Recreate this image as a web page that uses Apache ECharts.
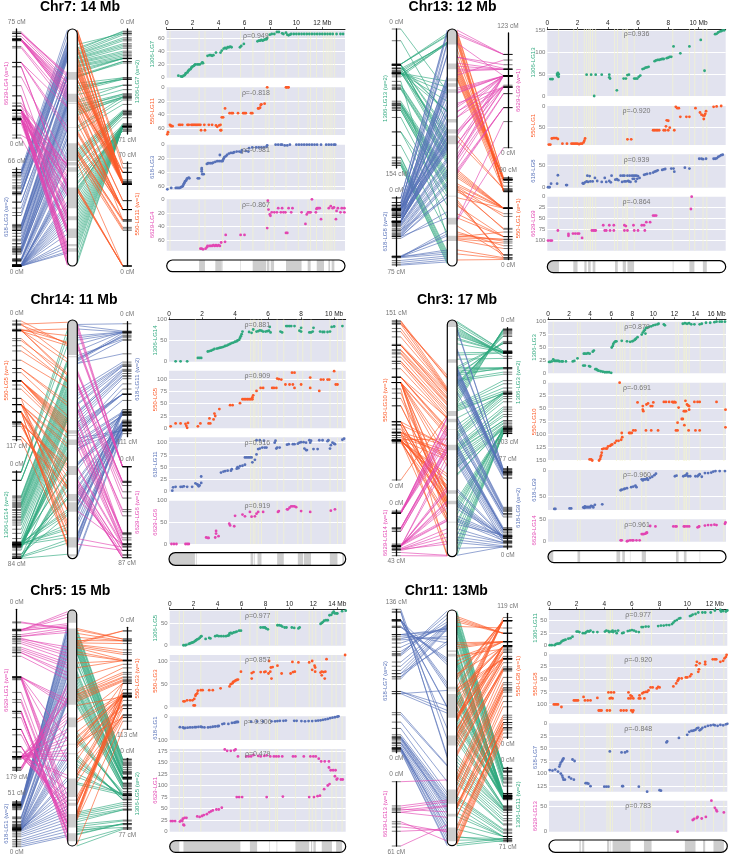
<!DOCTYPE html>
<html>
<head>
<meta charset="utf-8">
<title>Synteny</title>
<style>
html,body{margin:0;padding:0;background:#fff;}
#main{width:733px;height:856px;}
</style>
<script src="https://cdn.jsdelivr.net/npm/echarts@6/dist/echarts.min.js"></script>
</head>
<body>
<div id="main"></div>
<script>
// markers: [position in Mb, map position in cM]
var chr7Lg7 = [[0.9,3],[1.1,2],[1.2,1.5],[1.3,3],[1.4,4],[1.45,6],[1.5,7],[1.6,8],[1.65,10],[1.7,11],[1.75,12],[1.85,13],[1.9,15],[1.95,16],[2,17],[2.1,18],[2.15,19],[2.2,20],[2.35,20],[2.45,20],[2.55,20],[2.7,22],[2.75,23],[2.8,22],[3.15,33],[3.3,34],[3.4,34],[3.5,33],[3.6,34],[3.8,38],[4.15,38],[4.25,41],[4.4,44],[4.5,45],[4.6,44],[4.7,46],[4.8,46],[4.9,47],[5,46],[5.65,46],[5.75,48],[5.95,51],[7,55],[7.1,56],[7.2,56],[7.3,57],[7.4,56],[7.5,57],[7.6,58],[7.7,58],[7.75,60],[7.95,65],[8.1,66],[8.3,66],[8.5,69],[8.65,69],[8.9,67],[9,66],[9.2,68],[9.3,65],[9.4,64],[9.5,65],[9.6,66],[9.8,66],[10,66],[10.2,66],[10.4,66],[10.6,66],[10.8,66],[11,66],[11.2,66],[11.4,66],[11.6,66],[11.8,66],[12,66],[12.2,66],[12.4,66],[12.6,66],[12.8,66],[13.1,66],[13.4,66],[13.6,66]];
var chr7Lg11 = [[0.05,69],[0.1,66],[0.25,55],[0.3,56],[0.35,57],[0.45,57],[0.95,55],[1.05,55],[1.2,55],[1.6,55],[1.7,55],[1.9,55],[2,55],[2.1,55],[2.2,55],[2.3,55],[2.4,55],[2.5,55],[2.6,55],[2.65,63],[2.9,55],[2.95,63],[3.25,55],[3.5,55],[3.8,56],[3.9,58],[4.05,56],[4.15,55],[4.15,63],[4.2,63],[4.25,44],[4.35,44],[4.5,31],[4.85,38],[5,38],[5.1,38],[5.5,38],[5.9,38],[6,38],[6.1,38],[6.5,38],[6.6,38],[7.05,31],[7.1,31],[7.2,30],[7.25,26],[7.3,25],[7.55,24],[7.75,0],[9.2,0],[9.25,0],[9.35,0],[9.4,0]];
var chr7Lg3 = [[0.05,65],[0.35,63],[0.7,63],[0.8,63],[0.9,63],[1,63],[1.1,62],[1.2,61],[1.25,60],[1.3,58],[1.35,56],[1.4,54],[1.45,53],[1.5,52],[1.55,50],[1.6,49],[1.7,48],[1.75,49],[2.4,49],[2.5,49],[2.7,36],[2.7,34],[2.7,39],[2.75,43],[2.85,43],[3.1,28],[3.2,27],[3.35,27],[3.5,27],[3.6,26],[3.75,25],[3.9,24],[4.05,24],[4.1,15],[4.2,24],[4.3,24],[4.35,22],[4.4,20],[4.45,18],[4.55,17],[4.65,15],[4.8,13],[4.95,12],[5.1,12],[5.2,11],[5.4,10],[5.6,10],[5.75,11],[5.8,8],[6.1,9],[6.3,10],[6.35,5],[6.6,4],[6.9,4],[7.1,4],[7.3,4],[7.5,4],[7.7,3],[7.75,1],[8.4,0],[8.6,0],[8.8,0],[8.9,0],[9.1,1],[9.3,1],[9.5,0],[10,0],[10.2,0],[10.4,0],[10.6,0],[10.8,0],[11,0],[11.2,0],[11.4,0],[11.6,0],[11.9,0],[12.3,0],[12.5,0],[12.7,0],[12.9,0],[13,0]];
var chr7Lg4 = [[2.6,72],[2.7,72],[2.8,73],[3,72],[3.1,70],[3.15,68],[3.3,68],[3.4,68],[3.5,68],[3.6,67],[3.7,68],[3.8,67],[3.9,68],[4,67],[4.1,68],[4.2,63],[4.5,62],[4.55,52],[5.7,52],[6,52],[7.75,42],[7.8,2],[7.85,15],[7.95,22],[8,24],[8.1,19],[8.3,19],[8.5,19],[8.6,13],[8.8,19],[8.9,13],[9,19],[9.15,19],[9.2,49],[9.3,49],[9.4,13],[9.6,19],[9.7,13],[10.4,19],[10.7,36],[10.8,22],[10.9,19],[11,19],[11.1,19],[11.2,0],[11.5,19],[11.55,14],[11.6,13],[11.7,13],[11.8,13],[11.9,29],[12.5,13],[12.65,10],[12.8,13],[12.9,12],[13.05,29],[13.1,17],[13.2,13],[13.4,19],[13.5,13],[13.7,13],[13.7,19]];
var chr7Bands = [[2.5,2.95],[3.75,4.25],[4.3,4.34],[5.68,5.72],[6.63,7.66],[7.72,7.92],[8.02,8.28],[9.2,10.4],[10.87,11.1],[11.57,12.13],[12.47,12.6],[12.72,12.93]];
var chr7Lines = [0.25,2.5,2.95,4.3,5.7,6.65,7.65,7.9,8.3,9.2,10.15,10.9,11.1,11.55,12.1,12.3,12.45,12.6,12.75,12.95];

var chr13Lg13 = [[0.2,39],[0.3,39],[0.35,39],[0.65,48],[0.65,51],[0.7,53],[0.7,46],[0.75,44],[0.75,50],[2.6,49],[2.9,49],[3.1,0],[3.2,49],[3.6,49],[4.1,49],[4.1,43],[4.15,40],[4.6,13],[5.05,40],[5.2,40],[5.3,48],[5.4,49],[5.75,40],[5.85,40],[5.95,40],[6.05,44],[6.15,47],[6.3,62],[6.4,63],[6.5,65],[6.6,66],[6.7,67],[7.1,80],[7.2,82],[7.3,83],[7.4,83],[7.5,84],[7.6,85],[7.7,85],[7.9,87],[8,88],[8.1,90],[8.2,90],[8.35,114],[8.8,98],[9.4,114],[10.15,129],[10.4,58],[11.1,142],[11.2,143],[11.3,146],[11.4,148],[11.5,149],[11.6,151],[11.7,151]];
var chr13Lg1 = [[0.1,89],[0.2,89],[0.3,75],[0.4,74],[0.5,74],[0.6,74],[0.7,76],[1,87],[1.3,87],[1.6,87],[1.7,87],[1.8,87],[1.9,87],[2,87],[2.1,88],[2.2,87],[2.3,87],[2.4,84],[2.45,80],[2.5,75],[5.3,77],[5.55,77],[7,56],[7.1,56],[7.2,56],[7.3,56],[7.4,56],[7.7,56],[7.8,56],[7.85,47],[7.9,33],[8,34],[8,56],[8.1,50],[8.4,56],[8.5,2],[8.6,5],[8.7,5],[8.8,25],[9.2,25],[9.4,25],[9.8,5],[10.1,15],[10.2,20],[10.3,22],[10.4,22],[10.45,18],[10.5,12],[10.35,30],[11,2],[11.2,1],[11.5,0]];
var chr13Lg8 = [[0.05,1],[0.15,1],[0.25,9],[0.65,9],[0.7,28],[1.25,6],[1.3,6],[2.35,10],[2.4,9],[2.5,12],[2.6,14],[2.65,27],[2.7,13],[2.8,26],[2.85,14],[3,14],[3.15,22],[3.3,15],[3.6,13],[3.8,22],[3.9,13],[4.1,15],[4.2,12],[4.25,27],[4.5,18],[4.6,19],[4.7,17],[4.85,27],[4.95,13],[5,27],[5.1,14],[5.1,27],[5.2,14],[5.3,27],[5.35,15],[5.4,14],[5.45,27],[5.5,13],[5.6,27],[5.65,20],[5.7,27],[5.75,20],[5.8,27],[5.85,14],[5.9,27],[5.95,20],[6,26],[6.1,22],[6.4,29],[6.5,30],[6.6,31],[6.8,32],[7,34],[7.1,36],[7.2,37],[7.3,39],[7.6,40],[7.7,41],[7.8,42],[8.2,43],[8.35,43],[8.4,36],[9.1,45],[9.4,43],[10.05,65],[10.2,65],[10.3,64],[10.5,65],[11,65],[11.1,65],[11.2,66],[11.3,69],[11.4,71],[11.5,73],[11.6,74]];
var chr13Lg9 = [[0.05,100],[0.2,100],[0.3,100],[0.7,77],[1.4,85],[1.4,89],[1.7,84],[1.85,84],[2,84],[2.1,84],[2.3,94],[2.95,77],[3.05,77],[3.15,77],[3.2,77],[3.7,65],[3.8,77],[3.9,77],[4.1,65],[4.15,77],[4.4,65],[4.4,77],[5.1,65],[5.1,77],[5.2,67],[5.3,77],[5.7,65],[5.75,77],[6,77],[6.25,65],[6.4,65],[6.45,77],[6.55,58],[6.8,58],[7,43],[7.1,43],[7.2,43],[9.5,28],[9.55,0]];
var chr13Bands = [[0,0.77],[1.72,2],[2.45,2.6],[2.7,2.87],[3,3.18],[4.48,4.66],[4.99,5.2],[5.3,5.74],[8.3,8.34],[9.4,9.73],[10.29,10.55]];
var chr13Lines = [0.75,1.75,2,2.45,2.6,2.75,2.85,3,3.2,4.45,4.65,5,5.2,5.3,5.75,8.3,9.4,9.75,10.3,10.55];

var chr14Lg14 = [[0.4,1],[0.7,1],[1.1,1],[1.75,9],[1.85,9],[1.95,9],[2.35,24],[2.45,25],[2.55,26],[2.65,28],[2.75,30],[2.9,31],[3,32],[3.1,33],[3.2,34],[3.3,35],[3.4,37],[3.5,38],[3.6,40],[3.7,42],[3.8,44],[3.9,45],[4,47],[4.1,48],[4.15,50],[4.25,52],[4.3,56],[4.35,60],[4.4,65],[4.45,71],[4.85,70],[5,68],[5.1,76],[5.3,71],[5.4,72],[5.5,74],[5.6,73],[5.7,71],[5.85,71],[5.95,72],[6.05,73],[6.1,82],[6.15,69],[6.75,71],[6.85,69],[7.1,84],[7.2,84],[7.3,84],[7.4,84],[7.6,84],[7.9,73],[8,71],[8,80],[8.5,69],[8.6,69],[8.7,71],[8.75,80],[9.15,71],[9.3,70],[9.4,70],[9.6,70],[9.75,71],[9.85,82],[10,83],[10.5,84]];
var chr14Lg5 = [[0.1,4],[0.4,10],[0.7,10],[1,9],[1.05,5],[1.1,1],[1.15,11],[1.75,4],[1.9,10],[2.4,10],[2.45,20],[2.5,10],[2.7,18],[2.75,30],[2.8,25],[3.05,39],[3.7,47],[3.85,47],[4.3,51],[4.45,59],[4.55,59],[4.65,59],[4.75,59],[4.85,59],[4.95,59],[5.05,59],[5.05,63],[5.1,67],[5.3,76],[5.55,82],[5.7,82],[6.25,82],[6.35,82],[6.5,82],[6.55,101],[6.65,100],[6.8,99],[7.05,89],[7.3,89],[7.5,89],[7.45,113],[7.6,113],[7.6,82],[8,89],[8.55,103],[8.55,82],[9.1,76],[9.2,99],[9.35,99],[9.6,99],[9.7,99],[10,116],[10.1,89],[10.2,89]];
var chr14Lg11 = [[0.2,2],[0.25,9],[0.4,10],[0.7,10],[0.8,10],[0.9,11],[1.1,10],[1.4,10],[1.6,17],[1.7,15],[1.75,14],[1.8,11],[1.85,13],[1.95,18],[1.95,31],[3.15,39],[3.3,41],[3.4,42],[3.55,43],[3.75,43],[3.8,46],[4.1,47],[4.15,50],[4.2,48],[4.3,52],[4.45,53],[4.6,55],[4.6,70],[4.7,70],[4.8,70],[4.9,70],[5,70],[5.05,60],[5.2,65],[5.3,76],[5.3,105],[5.4,87],[5.5,105],[5.5,88],[5.65,90],[5.75,104],[5.8,90],[5.9,90],[6.4,100],[6.5,88],[6.45,104],[6.55,90],[6.7,90],[7.15,96],[7.25,97],[7.5,97],[7.6,97],[7.8,98],[7.9,100],[8,101],[8.15,101],[8.2,88],[8.3,85],[8.3,100],[8.35,85],[8.5,105],[8.55,100],[8.6,104],[8.75,87],[9,87],[9.1,105],[9.3,105],[9.65,105],[9.6,103],[9.75,88],[9.8,95],[9.9,100],[10,98],[10.05,97],[10.5,106],[10.6,108]];
var chr14Lg6 = [[0.15,0],[0.3,0],[0.45,0],[1,0],[1.1,0],[1.2,0],[2.25,15],[2.35,14],[2.4,14],[2.8,15],[2.85,24],[2.85,30],[3,18],[3.65,47],[3.7,43],[3.95,41],[4,65],[4.45,68],[4.6,64],[4.9,74],[5,63],[5.2,64],[5.3,70],[5.4,74],[5.7,74],[6.6,74],[6.65,76],[7.15,80],[7.2,80],[7.3,84],[7.4,87],[7.5,87],[7.6,87],[7.7,85],[8,76],[8.55,74],[9.8,77],[10.05,80]];
var chr14Bands = [[0,1.57],[1.63,1.67],[4.94,5.1],[5.16,5.2],[5.36,5.6],[6.55,6.95],[7.8,8.12],[8.17,8.6],[9.74,10.2],[10.5,10.6]];
var chr14Lines = [1.6,4.95,5.1,5.2,5.4,5.6,6.55,6.95,7.8,8.1,8.6,9.75,10.2,10.5];

var chr3Lg3 = [[0.1,22],[0.2,22],[0.35,23],[0.5,27],[0.6,24],[0.7,24],[0.8,24],[0.9,24],[1,24],[1.1,23],[1.3,23],[1.4,23],[1.7,23],[2.35,23],[2.5,24],[2.8,29],[3.35,15],[3.5,15],[3.4,38],[3.5,38],[3.65,38],[3.8,39],[3.9,14],[3.95,38],[4,13],[4.25,42],[4.35,44],[4.5,8],[4.6,8],[4.7,6],[4.8,5],[5,4],[5.2,3],[5.4,2],[5.6,2],[5.8,2],[6,1],[6.05,50],[6.15,53],[6.2,57],[6.3,60],[6.4,62],[6.5,62],[7,63],[7.5,62],[7.8,61],[8,62],[8.1,63],[8.25,65],[8.35,67],[8.5,70],[8.9,75],[9,79],[9.1,82],[9.2,84],[9.25,77],[9.3,88],[9.4,88],[9.6,90],[9.8,91],[10,93],[10.2,94],[10.4,95],[10.5,96],[11,95],[11.1,93],[12.8,96],[13,97],[13.2,96],[13.4,97],[13.6,95],[13.9,95],[14.4,95],[14.6,96],[15,98],[15.4,98],[15.8,99],[16,100],[16.3,100],[16.5,100],[16.8,100]];
var chr3Lg10 = [[3.95,148],[4.1,148],[4.2,150],[4.85,150],[4.95,147],[5,143],[5.05,140],[5.1,135],[5.15,128],[5.3,127],[5.5,127],[5.6,127],[5.7,123],[5.9,122],[6,120],[6.1,119],[6.35,116],[6.5,112],[6.7,112],[6.8,0],[6.95,110],[7,97],[7.05,105],[7.7,97],[7.8,97],[7.95,97],[8.1,92],[8.3,92],[8.5,38],[9,45],[9.05,55],[9,52],[9.3,92],[9.35,42],[9.5,40],[9.75,45],[9.8,92],[9.9,45],[10,38],[10.45,92],[11,37],[11.2,37],[11.5,37],[11.8,37],[11.9,38],[12,37],[12.1,38],[12.15,92],[12.3,92],[12.3,77],[12.4,48],[12.7,70],[12.8,70],[12.9,55],[12.95,82],[13.05,35],[13,55],[13.1,55],[13.2,42],[13.3,44],[13.35,92],[13.4,52],[13.4,45],[13.9,37],[14,92],[14.2,37],[14.4,37],[14.4,92],[16,37],[16.85,52],[16.85,86]];
var chr3Lg9 = [[0.6,75],[0.7,75],[2.05,74],[2.2,74],[3.35,72],[3.45,73],[3.5,70],[3.6,72],[3.7,71],[3.8,72],[3.9,71],[4,72],[4.1,69],[4.25,70],[4.3,72],[4.45,67],[5.15,66],[6.9,39],[7,38],[7.2,37],[7.3,36],[7.5,35],[7.9,33],[8.1,32],[8.3,30],[8.4,33],[8.9,18],[9,20],[9.1,18],[9.2,18],[9.3,18],[9.4,16],[9.5,19],[9.7,15],[9.9,13],[10.1,10],[10.25,7],[12.05,12],[12.2,11],[12.85,12],[13,11],[13.1,10],[13.2,7],[13.3,12],[13.5,12],[14,12],[14.2,12],[14.3,10],[14.4,8],[14.6,13],[14.9,6],[15.2,6],[15.5,5],[15.7,3],[15.9,2],[16.3,2],[16.8,2]];
var chr3Lg14 = [[6.9,3],[7,3],[7.5,1],[7.6,2],[7.8,3],[8,3],[8.1,3],[8.4,3],[8.7,3],[8.9,17],[9,17],[9.1,17],[9.25,18],[9.35,20],[9.4,20],[9.7,35],[10.2,34],[11.9,34],[12.1,34],[12.2,34],[12.9,34],[13,34],[13.2,34],[13.4,34],[14.2,32],[14.3,33],[14.35,34],[14.9,36],[15.2,37],[15.5,37],[15.8,38],[16,37],[16.8,40],[16.85,43]];
var chr3Bands = [[0,0.5],[2.8,3.05],[6.5,6.85],[7.05,7.3],[7.78,7.82],[8.9,9.3],[12.15,12.4],[12.9,13.15],[14.4,14.45]];
var chr3Lines = [0.5,2.8,3.05,6.5,6.85,7.05,7.3,7.8,8.9,9.3,12.15,12.4,12.9,13,13.15,13.4,14.45,16.7];

var chr5Lg5 = [[1.15,1],[1.3,1],[1.4,2],[1.6,4],[1.7,5],[1.8,6],[1.9,7],[2,8],[2.1,10],[2.2,12],[2.3,14],[2.4,15],[2.5,17],[2.6,20],[2.65,21],[3,15],[3.3,17],[3.4,16],[3.8,21],[3.95,22],[4.1,21],[4.3,21],[4.5,21],[4.7,21],[4.85,22],[4.95,23],[5,27],[5.1,28],[5.2,27],[5.35,29],[5.5,30],[5.6,31],[5.8,33],[5.95,33],[7.6,40],[7.8,40],[7.95,40],[8.05,38],[8.2,36],[9,45],[9.15,45],[9.3,44],[9.4,42],[9.6,40],[9.75,40],[10.2,40],[10.4,39],[10.75,38],[10.85,40],[12.6,48],[12.7,50],[12.8,52],[12.9,55],[13.05,56],[13.2,56],[13.35,67],[13.5,68],[13.6,72],[13.7,75],[13.8,71],[13.95,71],[14,71],[14.4,76],[14.7,77]];
var chr5Lg3 = [[1.15,13],[1.25,13],[1.45,15],[1.7,15],[1.9,15],[2,4],[2.05,18],[2.1,4],[2.15,25],[2.2,28],[2.3,30],[2.35,36],[2.6,37],[2.75,37],[3.3,37],[3.6,37],[4.25,41],[5,45],[5.1,50],[5.25,52],[5.3,55],[5.4,56],[5.5,58],[5.6,59],[5.7,60],[5.95,77],[6.85,62],[6.85,74],[7,76],[7.6,76],[7.9,76],[8,77],[8.25,73],[8.3,100],[8.4,77],[8.45,86],[8.5,62],[8.6,87],[9,90],[9.35,73],[10.1,73],[10.25,98],[10.3,76],[10.45,77],[10.75,97],[11.65,97],[11.9,100],[11.9,81],[12.1,90],[12.15,77],[12.15,86],[12.6,75],[12.7,69],[12.7,77],[12.85,76],[12.95,62],[13,77],[13.1,104],[14.65,113]];
var chr5Lg1a = [[0.85,46],[1.1,47],[1.2,50],[1.3,49],[1.5,48],[1.7,47],[1.9,47],[2.1,46],[2.2,46],[2.4,45],[2.6,44],[2.7,46],[2.9,47],[3.2,47],[3.4,46],[3.6,44],[3.8,43],[4,42],[4.1,41],[4.4,33],[4.55,31],[4.9,32],[5.2,28],[5.4,27],[5.5,25],[5.6,24],[5.7,24],[6.8,23],[7.3,22],[7.8,22],[8.5,21],[8.8,21],[9,20],[9.2,19],[9.5,19],[9.7,18],[10.4,19],[10.6,19],[11,20],[11.3,21],[11.6,20],[11.9,20],[12.2,19],[12.4,18],[12.6,17],[12.8,15],[13,13],[13.2,11],[13.4,8],[13.6,6],[13.8,4],[14,2],[14.1,0]];
var chr5Lg1b = [[0.1,23],[0.25,23],[0.45,23],[0.85,22],[0.95,24],[1.05,23],[1.1,28],[1.15,15],[1.2,14],[1.25,30],[1.4,30],[2.3,33],[2.5,32],[2.7,34],[2.85,36],[3.1,38],[3.3,42],[3.45,44],[3.6,46],[3.9,48],[4.1,48],[4.35,52],[4.6,178],[4.8,175],[5.1,175],[5.4,176],[5.5,178],[5.6,75],[5.7,163],[5.8,75],[6.05,75],[6.4,163],[6.6,163],[6.8,163],[7,166],[7.4,164],[7.6,163],[7.9,164],[8.1,75],[8.1,165],[8.4,163],[8.7,163],[8.9,163],[9.1,163],[9.4,163],[9.45,76],[10.3,163],[10.5,163],[11.2,163],[11.65,75],[11.75,163],[12,163],[12.05,75],[12.2,163],[12.35,77],[12.45,158],[12.55,78],[12.65,152],[12.9,92],[12.95,152],[13.2,100],[13.3,139],[13.3,152],[13.35,103],[13.45,133],[13.65,133],[13.8,120],[13.85,133],[13.95,113],[14,115],[14.3,113],[14.45,113]];
var chr5Bands = [[0,0.8],[1.15,5.9],[6.7,7.3],[8.33,8.38],[8.93,8.98],[10.5,11.65],[11.8,11.9],[12,12.2],[12.7,13.55],[13.9,14.4]];
var chr5Lines = [0.8,1.15,2.6,5.9,6.7,7.3,8.35,8.85,9,10.5,11.65,11.9,12.2,12.7,13.55,13.9,14.4];

var chr11Lg11 = [[0.05,1],[0.2,1],[0.4,1],[0.5,3],[0.6,4],[0.7,4],[0.8,5],[0.9,8],[1,10],[1.1,11],[1.2,12],[1.4,14],[1.55,15],[1.7,18],[2,28],[2.1,28],[2.2,27],[2.45,25],[2.6,25],[2.7,27],[2.8,29],[2.9,28],[3,30],[3.2,27],[3.5,27],[4.05,28],[4.15,30],[4.3,29],[4.35,27],[4.5,28],[4.6,30],[4.65,27],[4.8,29],[4.9,25],[5,30],[5.3,25],[5.4,26],[5.7,29],[5.85,30],[6,31],[6.15,30],[6.3,28],[6.5,27],[6.7,37],[6.8,37],[7,38],[7.2,38],[7.9,39],[8.1,40],[8.3,40],[8.5,41],[8.7,41],[8.9,43],[9,46],[9.1,49],[9.25,51],[9.4,54],[9.5,55],[10.2,59],[10.3,60],[10.4,62],[10.6,63],[10.8,66],[11.1,66],[11.3,66],[11.7,66],[12,70],[12.4,71],[12.45,68],[12.6,69],[12.8,68],[12.9,70]];
var chr11Lg8 = [[0.35,100],[0.45,100],[0.55,100],[0.65,100],[0.9,105],[1.8,92],[1.9,92],[2,92],[2.1,92],[2.5,85],[2.6,92],[2.8,92],[3,92],[3.5,87],[3.6,112],[3.7,112],[3.8,112],[4.2,112],[4.3,76],[4.4,112],[4.4,88],[4.5,76],[4.5,87],[4.6,88],[4.7,76],[5.2,112],[5.4,112],[5.6,112],[5.75,76],[5.75,88],[5.9,82],[5.9,88],[5.95,112],[6,84],[6.05,115],[6.1,88],[6.1,112],[6.5,88],[6.55,82],[6.6,88],[6.75,78],[6.85,76],[6.9,88],[7,75],[7.1,75],[7.2,72],[7.35,66],[7.5,66],[7.8,68],[7.9,65],[8,66],[9,64],[9.2,58],[9.3,53],[9.35,51],[9.4,48],[9.6,48],[9.9,46],[10,46],[10.2,44],[10.3,40],[10.65,22],[10.7,15],[10.8,35],[10.85,30],[10.9,18],[11.3,15],[11.3,20],[11.85,10],[12,10],[12.1,10],[12.4,15],[12.6,13],[12.7,8],[12.8,5],[12.85,1]];
var chr11Lg7 = [[0.05,93],[0.25,94],[0.45,92],[0.65,96],[0.75,86],[0.8,82],[0.85,78],[0.95,75],[1,72],[1.05,70],[0.85,100],[0.95,104],[1,108],[1.05,112],[1.15,112],[1.45,107],[1.6,110],[1.7,72],[1.8,112],[1.85,75],[2.65,119],[2.75,119],[2.85,120],[3,125],[4,126],[4.15,126],[4.3,126],[4.4,56],[5.25,58],[5.3,125],[5.35,125],[5.5,58],[5.65,56],[6.5,126],[7.1,136],[8,133],[8.1,134],[8.5,38],[8.55,36],[9.4,29],[10,23],[10.15,17],[10.3,15],[10.4,15],[10.5,14],[10.6,13],[10.7,10],[10.8,9],[10.9,14],[11,12],[11.1,9],[11.3,7],[11.5,5],[11.7,4],[11.9,3],[12,4],[12.2,5],[12.4,3],[12.6,4],[12.8,2],[12.9,1]];
var chr11Lg13 = [[9.3,0],[10.4,23],[10.5,25],[10.7,27],[10.75,29],[11.05,26],[11.35,29],[11.75,61],[12,47],[12.1,43],[12.15,40],[12.65,38]];
var chr11Bands = [[2.2,2.3],[2.4,2.55],[4.2,4.35],[4.4,4.45],[4.6,5.9],[6.87,7.42],[9.83,10.6],[11.15,11.3],[11.9,12.65]];
var chr11Lines = [2.2,2.55,4.2,4.35,4.45,4.6,5.9,6.65,6.87,7.42,9.83,10.6,11,11.3,11.9,12.65];

var GREEN = '#2fa87e', ORANGE = '#fc5a28', BLUE = '#5771b8', PINK = '#e245b2';
var FONT = '"Liberation Sans", Arial, sans-serif';

var panels = [
	{title:'Chr7: 14 Mb', tx:80, ty:7, len:13.75, ch:[67.5,77.3,29,266], pl:166.7, pr:345, ay:29, bar:[260,271.7], plots:[
		{n:'1306-LG7', c:GREEN, d:chr7Lg7, rho:'ρ=0.949', t:30.7, b:77.7, max:71, inv:false, step:20, mn:'1306-LG7 (w=2)', side:'R', mx:127.3, mt:29, mb:134, mlen:71, top0:true},
		{n:'550-LG11', c:ORANGE, d:chr7Lg11, rho:'ρ=-0.818', t:87.3, b:135, max:70, inv:true, step:20, mn:'550-LG11 (w=1)', side:'R', mx:127.3, mt:162, mb:266, mlen:70, top0:false},
		{n:'618-LG3', c:BLUE, d:chr7Lg3, rho:'ρ=-0.981', t:144.7, b:190, max:66, inv:true, step:20, mn:'618-LG3 (w=2)', side:'L', mx:16.7, mt:168, mb:266, mlen:66, top0:false},
		{n:'6629-LG4', c:PINK, d:chr7Lg4, rho:'ρ=-0.867', t:199.3, b:250.7, max:75, inv:true, step:20, mn:'6629-LG4 (w=1)', side:'L', mx:16.7, mt:29, mb:138, mlen:75, top0:false}
	], bands:chr7Bands, lines:chr7Lines},
	{title:'Chr13: 12 Mb', tx:452.5, ty:7, len:11.8, ch:[447.3,457,29,266], pl:547.3, pr:725.7, ay:29, bar:[260.7,272.7], plots:[
		{n:'1306-LG13', c:GREEN, d:chr13Lg13, rho:'ρ=0.936', t:29, b:96, max:154, inv:false, step:50, mn:'1306-LG13 (w=2)', side:'L', mx:396.3, mt:29, mb:168, mlen:154, top0:true},
		{n:'550-LG1', c:ORANGE, d:chr13Lg1, rho:'ρ=-0.920', t:106, b:145, max:90, inv:true, step:50, mn:'550-LG1 (w=1)', side:'R', mx:508, mt:177, mb:259.5, mlen:90, top0:false},
		{n:'618-LG8', c:BLUE, d:chr13Lg8, rho:'ρ=0.939', t:154.3, b:187.7, max:75, inv:false, step:50, mn:'618-LG8 (w=2)', side:'L', mx:396.3, mt:197, mb:266, mlen:75, top0:true},
		{n:'6629-LG9', c:PINK, d:chr13Lg9, rho:'ρ=-0.864', t:196.7, b:250.7, max:123, inv:true, step:25, mn:'6629-LG9 (w=1)', side:'R', mx:508, mt:33, mb:147.7, mlen:123, top0:false}
	], bands:chr13Bands, lines:chr13Lines},
	{title:'Chr14: 11 Mb', tx:74, ty:300, len:10.7, ch:[67.7,77.3,320,558.7], pl:169, pr:345.7, ay:319.3, bar:[552.7,565.3], plots:[
		{n:'1306-LG14', c:GREEN, d:chr14Lg14, rho:'ρ=0.881', t:319.3, b:361.7, max:100, inv:false, step:50, mn:'1306-LG14 (w=2)', side:'L', mx:16.7, mt:471, mb:558.3, mlen:84, top0:true},
		{n:'550-LG5', c:ORANGE, d:chr14Lg5, rho:'ρ=0.909', t:370.7, b:428.3, max:117, inv:false, step:25, mn:'550-LG5 (w=1)', side:'L', mx:16.7, mt:320, mb:440.7, mlen:117, top0:true},
		{n:'618-LG11', c:BLUE, d:chr14Lg11, rho:'ρ=0.916', t:437.3, b:491.7, max:111, inv:false, step:25, mn:'618-LG11 (w=2)', side:'R', mx:127, mt:321.7, mb:436.7, mlen:111, top0:true},
		{n:'6629-LG6', c:PINK, d:chr14Lg6, rho:'ρ=0.919', t:500.7, b:544, max:100, inv:false, step:50, mn:'6629-LG6 (w=1)', side:'R', mx:127, mt:466.7, mb:557.7, mlen:87, top0:true}
	], bands:chr14Bands, lines:chr14Lines},
	{title:'Chr3: 17 Mb', tx:457, ty:300, len:16.9, ch:[447.3,457,320,556.7], pl:548, pr:726, ay:319.3, bar:[550.7,562.7], plots:[
		{n:'1306-LG3', c:GREEN, d:chr3Lg3, rho:'ρ=0.879', t:321.7, b:373.3, max:100, inv:false, step:25, mn:'1306-LG3 (w=2)', side:'R', mx:507.7, mt:327.7, mb:436.7, mlen:103, top0:true},
		{n:'550-LG10', c:ORANGE, d:chr3Lg10, rho:'ρ=-0.691', t:382.7, b:461, max:151, inv:true, step:25, mn:'550-LG10 (w=1)', side:'L', mx:396.3, mt:320, mb:480, mlen:151, top0:false},
		{n:'618-LG9', c:BLUE, d:chr3Lg9, rho:'ρ=-0.960', t:470, b:510, max:77, inv:true, step:50, mn:'618-LG9 (w=2)', side:'R', mx:507.7, mt:466.7, mb:549, mlen:77, top0:false},
		{n:'6629-LG14', c:PINK, d:chr3Lg14, rho:'ρ=0.961', t:519.3, b:541.7, max:50, inv:false, step:50, mn:'6629-LG14 (w=1)', side:'L', mx:396.3, mt:510, mb:555.7, mlen:43, top0:true}
	], bands:chr3Bands, lines:chr3Lines},
	{title:'Chr5: 15 Mb', tx:70.3, ty:590.7, len:14.7, ch:[67.7,76.7,610,846], pl:169.7, pr:345.7, ay:609.3, bar:[840.7,852.3], plots:[
		{n:'1306-LG5', c:GREEN, d:chr5Lg5, rho:'ρ=0.977', t:610.7, b:645.7, max:77, inv:false, step:50, mn:'1306-LG5 (w=2)', side:'R', mx:127.3, mt:758.3, mb:829.3, mlen:77, top0:true},
		{n:'550-LG3', c:ORANGE, d:chr5Lg3, rho:'ρ=0.857', t:655, b:707.3, max:113, inv:false, step:50, mn:'550-LG3 (w=1)', side:'R', mx:127.3, mt:627.3, mb:729.3, mlen:113, top0:true},
		{n:'618-LG1', c:BLUE, d:chr5Lg1a, rho:'ρ=-0.906', t:716.3, b:740, max:100, inv:true, step:100, mn:'618-LG1 (w=2)', side:'L', mx:16.7, mt:800.7, mb:846.7, mlen:51, top0:false},
		{n:'6629-LG1', c:PINK, d:chr5Lg1b, rho:'ρ=0.479', t:749, b:831.7, max:179, inv:false, step:25, mn:'6629-LG1 (w=1)', side:'L', mx:16.7, mt:609.3, mb:771, mlen:179, top0:true}
	], bands:chr5Bands, lines:chr5Lines},
	{title:'Chr11: 13Mb', tx:446.3, ty:590.7, len:12.9, ch:[447.3,456.7,610,845.7], pl:549, pr:727.3, ay:609.3, bar:[840,852.3], plots:[
		{n:'1306-LG11', c:GREEN, d:chr11Lg11, rho:'ρ=0.977', t:610, b:645.7, max:71, inv:false, step:25, mn:'1306-LG11 (w=2)', side:'R', mx:507.7, mt:767.3, mb:841.7, mlen:71, top0:true},
		{n:'550-LG8', c:ORANGE, d:chr11Lg8, rho:'ρ=-0.920', t:654.3, b:714, max:119, inv:true, step:25, mn:'550-LG8 (w=1)', side:'R', mx:507.7, mt:613.3, mb:738.3, mlen:119, top0:false},
		{n:'618-LG7', c:BLUE, d:chr11Lg7, rho:'ρ=-0.848', t:723.3, b:791.7, max:136, inv:true, step:25, mn:'618-LG7 (w=2)', side:'L', mx:396.3, mt:609.3, mb:752.7, mlen:136, top0:false},
		{n:'6629-LG13', c:PINK, d:chr11Lg13, rho:'ρ=0.783', t:800.7, b:831.7, max:61, inv:false, step:50, mn:'6629-LG13 (w=1)', side:'L', mx:396.3, mt:781.7, mb:846, mlen:61, top0:true}
	], bands:chr11Bands, lines:chr11Lines}
];

var myChart = echarts.init(document.getElementById('main'));

var grids = [], xAxes = [], yAxes = [], series = [], texts = [];

function addGrid(l, r, t, b, xAxis, yAxis, bg) {
	grids.push({left:l, top:t, width:r-l, height:b-t, show:!!bg, backgroundColor:bg || 'transparent', borderWidth:0});
	var i = grids.length-1;
	xAxis.gridIndex = i;
	yAxis.gridIndex = i;
	xAxes.push(xAxis);
	yAxes.push(yAxis);
	return i;
}

function hiddenAxis(min, max, inverse) {
	return {type:'value', min:min, max:max, inverse:!!inverse, show:false};
}

function addText(x, y, str, size, color, rotate, bold) {
	texts.push({type:'text', x:x, y:y, rotation:rotate ? Math.PI/2 : 0, silent:true, z:50, style:{
		text:str, fill:color, textAlign:'center', textVerticalAlign:'middle',
		font:(bold ? 'bold ' : '')+size+'px '+FONT
	}});
}

// rounded chromosome with its gray bands; vertical in the ladder, horizontal under the dot plots
function addChromosome(gi, bands, len, vertical) {
	var outer = function(api) {
		var a = api.coord([0,0]);
		var c = vertical ? api.coord([1,len]) : api.coord([len,1]);
		var x = Math.min(a[0],c[0]), y = Math.min(a[1],c[1]);
		var w = Math.abs(c[0]-a[0]), h = Math.abs(c[1]-a[1]);
		return {x:x, y:y, width:w, height:h, r:Math.min(w,h)/2};
	};
	series.push({type:'custom', coordinateSystem:'cartesian2d', xAxisIndex:gi, yAxisIndex:gi, silent:true, z:5, clip:false,
		data:[[0,len]],
		renderItem:function(params, api) {
			return {type:'rect', shape:outer(api), style:{fill:'#fff'}};
		}});
	series.push({type:'custom', coordinateSystem:'cartesian2d', xAxisIndex:gi, yAxisIndex:gi, silent:true, z:6, clip:false,
		data:bands,
		encode:vertical ? {y:[0,1]} : {x:[0,1]},
		renderItem:function(params, api) {
			var p0 = vertical ? api.coord([0,api.value(0)]) : api.coord([api.value(0),1]);
			var p1 = vertical ? api.coord([1,api.value(1)]) : api.coord([api.value(1),0]);
			return {type:'rect',
				shape:{x:p0[0], y:p0[1], width:p1[0]-p0[0], height:p1[1]-p0[1]},
				style:{fill:'#cdcdcd'},
				clipPath:{type:'rect', shape:outer(api)}};
		}});
	series.push({type:'custom', coordinateSystem:'cartesian2d', xAxisIndex:gi, yAxisIndex:gi, silent:true, z:7, clip:false,
		data:[[0,len]],
		renderItem:function(params, api) {
			return {type:'rect', shape:outer(api), style:{fill:'none', stroke:'#000', lineWidth:1.2}};
		}});
}

panels.forEach(function(p) {
	addText(p.tx, p.ty, p.title, 14, '#000', false, true);

	var chrGrid = addGrid(p.ch[0], p.ch[1], p.ch[2], p.ch[3], hiddenAxis(0,1), hiddenAxis(0,p.len,true));
	addChromosome(chrGrid, p.bands, p.len, true);

	var lastTick = Math.floor(p.len/2)*2;

	p.plots.forEach(function(pt, k) {
		var xAxis = hiddenAxis(0, p.len);
		if (k === 0) {
			xAxis = {type:'value', min:0, max:p.len, interval:2, position:'top', offset:pt.t-p.ay,
				axisLine:{show:true, onZero:false, lineStyle:{color:'#222', width:1}},
				axisTick:{show:true, length:2, lineStyle:{color:'#222', width:0.7}},
				splitLine:{show:false},
				axisLabel:{show:true, margin:2, fontSize:6.5, fontFamily:FONT, color:'#222', showMaxLabel:false, hideOverlap:false,
					formatter:function(v) { return v === lastTick ? v+' Mb' : String(v); }}
			};
		}
		var yAxis = {type:'value', min:0, max:pt.max, interval:pt.step, inverse:pt.inv,
			axisLine:{show:false}, axisTick:{show:false},
			splitLine:{show:true, showMaxLine:false, showMinLine:false, lineStyle:{color:'#fff', width:1}},
			axisLabel:{show:true, margin:2, fontSize:6, fontFamily:FONT, color:'#777', showMaxLabel:pt.max % pt.step === 0}
		};
		var gi = addGrid(p.pl, p.pr, pt.t, pt.b, xAxis, yAxis, '#e2e3ef');

		// pale yellow guide lines at the band edges
		series.push({type:'custom', coordinateSystem:'cartesian2d', xAxisIndex:gi, yAxisIndex:gi, silent:true, z:2, clip:true,
			data:p.lines.map(function(v) { return [v]; }),
			encode:{x:0},
			renderItem:function(params, api) {
				var a = api.coord([api.value(0),0]), b = api.coord([api.value(0),pt.max]);
				return {type:'line', shape:{x1:a[0], y1:a[1], x2:b[0], y2:b[1]}, style:{stroke:'#f3f3cd', lineWidth:0.7}};
			}});
		series.push({type:'scatter', xAxisIndex:gi, yAxisIndex:gi, data:pt.d, symbolSize:2.8, clip:false, silent:true, z:4,
			itemStyle:{color:pt.c, opacity:1}});

		addText(p.pl+(p.pr-p.pl)*0.5, pt.t+5.5, pt.rho, 7, '#777');
		addText(p.pl-14, (pt.t+pt.b)/2, pt.n, 6, pt.c, true);

		// genetic map axis: markers are the same points as the dot plot
		var mapGrid = addGrid(pt.mx-4.5, pt.mx+4.5, pt.mt, pt.mb, hiddenAxis(-1,1), {type:'value', min:0, max:pt.mlen, inverse:pt.top0,
			axisLine:{show:true, onZero:true, lineStyle:{color:'#000', width:1.3}}, axisTick:{show:false}, axisLabel:{show:false}, splitLine:{show:false}});
		series.push({type:'custom', coordinateSystem:'cartesian2d', xAxisIndex:mapGrid, yAxisIndex:mapGrid, silent:true, z:4, clip:false,
			data:pt.d.map(function(v) { return [v[1]]; }),
			encode:{y:0},
			renderItem:function(params, api) {
				var a = api.coord([-1,api.value(0)]), b = api.coord([1,api.value(0)]);
				return {type:'line', shape:{x1:a[0], y1:a[1], x2:b[0], y2:b[1]}, style:{stroke:'#000', lineWidth:0.7, opacity:0.75}};
			}});
		// one link per marker, chromosome position to map position
		series.push({type:'custom', coordinateSystem:'cartesian2d', xAxisIndex:chrGrid, yAxisIndex:chrGrid, silent:true, z:3, clip:false,
			data:pt.d,
			encode:{y:0},
			renderItem:function(params, api) {
				var onLeft = pt.side === 'L';
				var a = api.coord([onLeft ? 0 : 1, api.value(0)]);
				var my = myChart.convertToPixel({yAxisIndex:mapGrid}, api.value(1));
				return {type:'line', shape:{x1:a[0], y1:a[1], x2:onLeft ? pt.mx+4.5 : pt.mx-4.5, y2:my},
					style:{stroke:pt.c, lineWidth:0.8, opacity:0.8}};
			}});

		addText(pt.mx, pt.mt-7, (pt.top0 ? 0 : pt.mlen)+' cM', 6.5, '#777');
		addText(pt.mx, pt.mb+6, (pt.top0 ? pt.mlen : 0)+' cM', 6.5, '#777');
		addText(pt.side === 'L' ? pt.mx-10.5 : pt.mx+10.5, (pt.mt+pt.mb)/2, pt.mn, 6, pt.c, true);
	});

	var barGrid = addGrid(p.pl, p.pr, p.bar[0], p.bar[1], hiddenAxis(0,p.len), hiddenAxis(0,1));
	addChromosome(barGrid, p.bands, p.len, false);
});

var option = {
	animation:false,
	backgroundColor:'#fff',
	textStyle:{fontFamily:FONT},
	grid:grids,
	xAxis:xAxes,
	yAxis:yAxes,
	series:series,
	graphic:{elements:texts}
};
myChart.setOption(option);
</script>
</body>
</html>
